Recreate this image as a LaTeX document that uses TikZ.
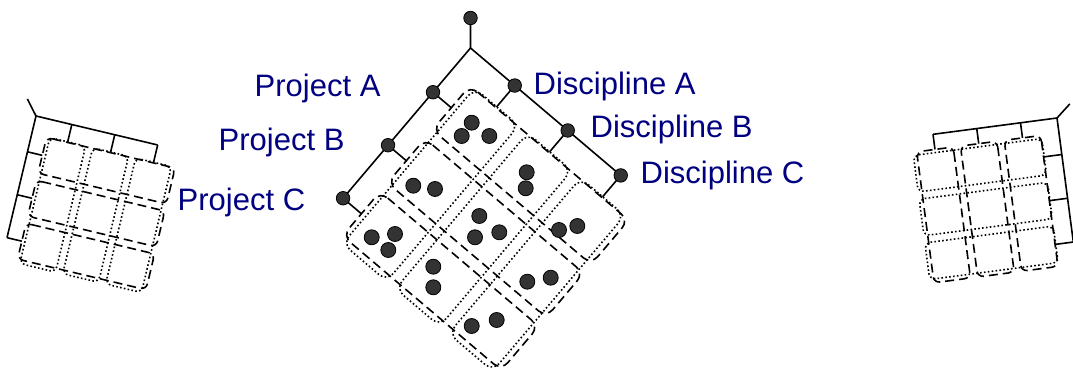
\documentclass[tikz,border=0pt]{standalone}
\usepackage{fontspec}
\setmainfont{Liberation Sans}
\definecolor{labelblue}{RGB}{0,0,128}
\definecolor{dotgrey}{RGB}{51,51,51}
\tikzset{
  branch/.style={line width=1.6pt, draw=black},
  rowbox/.style={line width=1.6pt, draw=black, dash pattern=on 9pt off 5pt},
  colbox/.style={line width=1.6pt, draw=black, dash pattern=on 1.6pt off 2.3pt},
  nodedot/.style={circle, draw=black, line width=0.8pt, fill=dotgrey, inner sep=0pt, minimum size=13.5pt},
  celldot/.style={circle, draw=black, line width=0.8pt, fill=dotgrey, inner sep=0pt, minimum size=15pt},
  lab/.style={text=labelblue, font=\fontsize{31}{37}\selectfont, anchor=base west, inner sep=0pt},
}
% #1,#2 origin (pixels), #3 screen angle of discipline axis, #4 scale, #5 corner radius, #6 prefix
\newcommand{\mtree}[6]{%
  \begin{scope}[shift={(#1,#2)}]
  \begin{scope}[x={(-#3:#4pt)}, y={(-#3-90:#4pt)}]
    \coordinate (#6o) at (0,0);
    \coordinate (#6r) at (-19.4,-22.9);
    \foreach \kk/\cc in {a/58,b/127.5,c/197} {
      \coordinate (#6p\kk) at (0,\cc);
      \coordinate (#6pt\kk) at (24,\cc);
      \coordinate (#6d\kk) at (\cc,0);
      \coordinate (#6dt\kk) at (\cc,28);
      \draw[rowbox, rounded corners=#5] (24,\cc-29) -- (232,\cc-29) -- (232,\cc+29) -- (24,\cc+29) -- cycle;
      \draw[colbox, rounded corners=#5] (\cc-29,28) -- (\cc+29,28) -- (\cc+29,232) -- (\cc-29,232) -- cycle;
    }
    \draw[branch] (#6r) -- (#6o);
    \draw[branch] (#6o) -- (#6pa) -- (#6pb) -- (#6pc);
    \draw[branch] (#6o) -- (#6da) -- (#6db) -- (#6dc);
    \foreach \kk in {a,b,c} {
      \draw[branch] (#6p\kk) -- (#6pt\kk);
      \draw[branch] (#6d\kk) -- (#6dt\kk);
    }
  \end{scope}
  \end{scope}}
\begin{document}
\begin{tikzpicture}[x=1pt,y=-1pt]
\useasboundingbox (0,0) rectangle (1073,374);
% side views
\mtree{36}{116}{13.4}{0.635}{6pt}{L}
\mtree{1057}{118}{82.5}{0.635}{6pt}{R}
% main view
\mtree{470.5}{48}{40.3}{1}{10pt}{M}
\node[nodedot] (root) at (Mr) {};
\foreach \kk in {a,b,c} {
  \node[nodedot] (proj\kk) at (Mp\kk) {};
  \node[nodedot] (disc\kk) at (Md\kk) {};
}
\foreach \px/\py [count=\i] in {471.7/122.7,461.7/136,489.3/136,
  413.3/185.7,435/189,
  371.7/237.3,395/234,388.3/250,
  526.7/172.3,525.7/188.3,
  479.3/216,475/237.3,499.3/232.3,
  433.3/266.7,433.3/287.3,
  559/230,577.3/226,
  527.3/281.7,550.7/277.7,
  471.7/326,496.7/320} {
  \node[celldot] (cell\i) at (\px,\py) {};
}
\node[lab] (labPA) at (254.5,97) {Project A};
\node[lab] (labPB) at (218.5,151) {Project B};
\node[lab] (labPC) at (177.5,211) {Project C};
\node[lab] (labDA) at (533.5,95) {Discipline A};
\node[lab] (labDB) at (590.5,138) {Discipline B};
\node[lab] (labDC) at (640.5,184) {Discipline C};
\end{tikzpicture}
\end{document}
